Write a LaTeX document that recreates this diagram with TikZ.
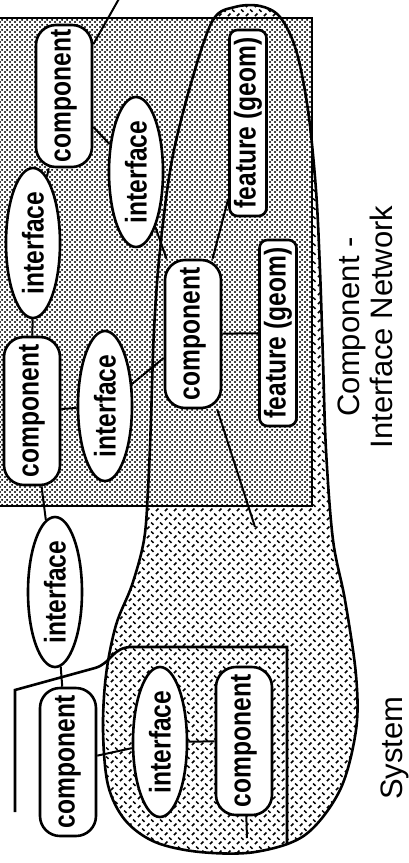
\documentclass[tikz,border=0pt]{standalone}
\usepackage{fontspec}
\setmainfont{Liberation Sans}
\newfontfamily\boxfont[FakeStretch=0.82]{Liberation Sans}
\usetikzlibrary{shapes.geometric, patterns}

% fine stipple for the component-interface network
\pgfdeclarepatternformonly{stipple}{\pgfqpoint{0pt}{0pt}}{\pgfqpoint{2.5pt}{2.5pt}}{\pgfqpoint{2.5pt}{2.5pt}}{%
  \pgfpathcircle{\pgfqpoint{0.6pt}{0.6pt}}{0.68pt}
  \pgfpathcircle{\pgfqpoint{1.85pt}{1.85pt}}{0.68pt}
  \pgfusepath{fill}}
% short dashes for the system region
\pgfdeclarepatternformonly{hatch}{\pgfqpoint{0pt}{0pt}}{\pgfqpoint{4.6pt}{4.6pt}}{\pgfqpoint{4.6pt}{4.6pt}}{%
  \pgfsetlinewidth{0.8pt}
  \pgfpathmoveto{\pgfqpoint{0.5pt}{0.5pt}}\pgfpathlineto{\pgfqpoint{1.9pt}{1.9pt}}
  \pgfpathmoveto{\pgfqpoint{2.8pt}{4.1pt}}\pgfpathlineto{\pgfqpoint{4.1pt}{2.8pt}}
  \pgfusepath{stroke}}

\begin{document}
\begin{tikzpicture}[
    x=0.5pt, y=-0.5pt,
    component/.style={rectangle, draw, line width=1.3pt, fill=white, rounded corners=10pt, rotate=90, minimum width=74pt, minimum height=28pt, inner sep=0pt, font=\boxfont\bfseries\fontsize{15}{15}\selectfont},
    interface/.style={ellipse, draw, line width=1.3pt, fill=white, rotate=90, minimum width=75pt, minimum height=27pt, inner sep=0pt, font=\boxfont\bfseries\fontsize{15}{15}\selectfont},
    feature/.style={rectangle, draw, line width=1.3pt, fill=white, rounded corners=4pt, rotate=90, minimum width=93pt, minimum height=18.5pt, inner sep=0pt, font=\boxfont\bfseries\fontsize{15}{15}\selectfont},
    link/.style={line width=1pt},
    outline/.style={line width=1.3pt},
    network/.style={draw, line width=1.3pt, preaction={fill=white}, pattern=stipple},
    caption/.style={rotate=90, inner sep=0pt, align=center, font=\fontsize{15.5}{16.5}\selectfont}
]
\useasboundingbox (0,0) rectangle (408,863);

% system region
\path[save path=\systemblob] plot[smooth cycle, tension=0.55] coordinates {
  (213,20) (235,7) (260,6) (280,17) (296,50) (308,110) (316,190) (320,270)
  (323,360) (326,450) (333,540) (345,600) (356,675) (356,730) (340,790)
  (305,835) (255,852) (200,852) (155,842) (125,820) (108,785) (103,730)
  (106,675) (116,625) (132,585) (144,540) (148,490) (151,420) (154,330)
  (160,250) (172,160) (192,80)};
\path[pattern=hatch, use path=\systemblob];

% network region
\path[network] (-5,18) rectangle (312,506);
\draw[outline, use path=\systemblob];

% system box
\draw[outline] (15,812) -- (15,690) -- (95,668) .. controls (112,663) and (112,647) .. (132,647) -- (287,647) -- (287,845);

% component - interface network
\node[component, minimum width=71pt] (comp-top) at (64,96) {component};
\node[interface] (if-top) at (136,172) {interface};
\node[interface] (if-left) at (33,243) {interface};
\node[component] (comp-left) at (32,411) {component};
\node[interface] (if-mid) at (105,406) {interface};
\node[component] (comp-mid) at (193,334) {component};
\node[feature] (feat-top) at (248,123) {feature (geom)};
\node[feature] (feat-low) at (278,333) {feature (geom)};

% system
\node[interface] (if-sys) at (55,592) {interface};
\node[component] (comp-sys) at (68,762) {component};
\node[interface] (if-inner) at (160,742) {interface};
\node[component] (comp-inner) at (244,741) {component};

% free ends
\coordinate (lead-in) at (120,-3);
\coordinate (mid-tail) at (255,527);
\coordinate (inner-tail) at (247,838);

% connections
\draw[link] (lead-in) -- (comp-top);
\draw[link] (comp-top) -- (if-top);
\draw[link] (comp-top) -- (if-left);
\draw[link] (if-left) -- (comp-left);
\draw[link] (comp-left) -- (if-mid);
\draw[link] (if-mid) -- (comp-mid);
\draw[link] (if-top) -- (comp-mid);
\draw[link] (comp-mid) -- (feat-top);
\draw[link] (comp-mid) -- (feat-low);
\draw[link] (comp-mid) -- (mid-tail);
\draw[link] (comp-left) -- (if-sys);
\draw[link] (if-sys) -- (comp-sys);
\draw[link] (comp-sys) -- (if-inner);
\draw[link] (if-inner) -- (comp-inner);
\draw[link] (comp-inner) -- (inner-tail);

% labels
\node[caption] (net-label) at (365,327) {Component -\\Interface Network};
\node[caption, anchor=base] (sys-label) at (402,748) {System};
\end{tikzpicture}
\end{document}
